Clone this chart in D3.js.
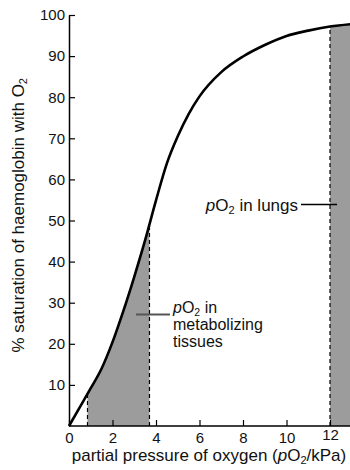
<!DOCTYPE html>
<html>
<head>
<meta charset="utf-8">
<script src="https://cdn.jsdelivr.net/npm/d3@7"></script>
<style>
  body { margin: 0; background: #fff; }
  svg { display: block; font-family: "Liberation Sans", Arial, sans-serif; }
</style>
</head>
<body>
<script>
// oxygen dissociation curve
const pressure = [0, 0.5, 1, 1.5, 2, 2.5, 3, 3.5, 4, 4.5, 5, 5.5, 6, 7, 8, 9, 10, 11, 12, 13];
const saturation = [0, 4.6, 9.2, 14.0, 20.4, 28.0, 36.3, 45.2, 54.9, 63.9, 70.5, 75.9, 80.2, 86.1, 89.9, 92.7, 94.9, 96.2, 97.2, 97.8];
const xTicks = [0, 2, 4, 6, 8, 10, 12];
const yTicks = [10, 20, 30, 40, 50, 60, 70, 80, 90, 100];
const tissueRange = [0.85, 3.7];
const lungRange = [12, 13];

var width = 350, height = 470;
var x0 = 69, x1 = 351.75, yBottom = 426, yTop = 15;

var svg = d3.select("body").append("svg")
  .attr("width", width)
  .attr("height", height);

var x = d3.scaleLinear().domain([0, 13]).range([x0, x1]);
var y = d3.scaleLinear().domain([0, 100]).range([yBottom, yTop]);

var points = pressure.map((p, i) => [p, saturation[i]]);

var line = d3.line()
  .x(d => x(d[0]))
  .y(d => y(d[1]))
  .curve(d3.curveMonotoneX);

var area = d3.area()
  .x(d => x(d[0]))
  .y0(y(0))
  .y1(d => y(d[1]))
  .curve(d3.curveMonotoneX);

// clip rects for the two shaded bands
var defs = svg.append("defs");
[["clipTissue", tissueRange], ["clipLung", lungRange]].forEach(([id, r]) => {
  defs.append("clipPath").attr("id", id)
    .append("rect")
    .attr("x", x(r[0]))
    .attr("y", 0)
    .attr("width", x(r[1]) - x(r[0]))
    .attr("height", yBottom);
});

svg.append("path").datum(points)
  .attr("d", area)
  .attr("fill", "#9c9c9c")
  .attr("clip-path", "url(#clipTissue)");

svg.append("path").datum(points)
  .attr("d", area)
  .attr("fill", "#9c9c9c")
  .attr("clip-path", "url(#clipLung)");

// curve
var curvePath = svg.append("path").datum(points)
  .attr("d", line)
  .attr("fill", "none")
  .attr("stroke", "#000")
  .attr("stroke-width", 2.6);

// find the curve's y at a given pixel x
function curveYAt(px) {
  var node = curvePath.node();
  var lo = 0, hi = node.getTotalLength();
  for (var k = 0; k < 40; k++) {
    var mid = (lo + hi) / 2;
    if (node.getPointAtLength(mid).x < px) lo = mid; else hi = mid;
  }
  return node.getPointAtLength(lo).y;
}

// dashed boundaries
[tissueRange[0], tissueRange[1], lungRange[0]].forEach(v => {
  svg.append("line")
    .attr("x1", x(v)).attr("x2", x(v))
    .attr("y1", yBottom).attr("y2", curveYAt(x(v)) + 1)
    .attr("stroke", "#000")
    .attr("stroke-width", 1.2)
    .attr("stroke-dasharray", "4,3");
});

// axes
var xAxis = svg.append("g")
  .attr("transform", `translate(0,${yBottom})`)
  .call(d3.axisBottom(x).tickValues(xTicks).tickSize(-6).tickSizeOuter(0).tickPadding(6));

var yAxis = svg.append("g")
  .attr("transform", `translate(${x0},0)`)
  .call(d3.axisLeft(y).tickValues(yTicks).tickSize(-6).tickSizeOuter(0).tickPadding(4));

[xAxis, yAxis].forEach(g => {
  g.select(".domain").attr("stroke", "#000").attr("stroke-width", 1.5);
  g.selectAll(".tick line").attr("stroke", "#000").attr("stroke-width", 1.2);
  g.selectAll(".tick text")
    .attr("fill", "#111")
    .style("font-size", "15px")
    .style("font-family", "Liberation Sans, Arial, sans-serif");
});
xAxis.select(".domain").attr("d", `M${x0},0H${width}`);
// the 12 label sits a little higher in the original
xAxis.selectAll(".tick text").filter(d => d === 12).attr("y", 3);

// axis titles
var xTitle = svg.append("text")
  .attr("x", 209).attr("y", 461)
  .attr("text-anchor", "middle")
  .style("font-size", "17px")
  .attr("fill", "#111");
xTitle.append("tspan").text("partial pressure of oxygen (");
xTitle.append("tspan").attr("font-style", "italic").text("p");
xTitle.append("tspan").text("O");
xTitle.append("tspan").attr("dy", 3).style("font-size", "11px").text("2");
xTitle.append("tspan").attr("dy", -3).text("/kPa)");

var yTitle = svg.append("text")
  .attr("transform", "translate(24,78) rotate(-90)")
  .attr("text-anchor", "end")
  .style("font-size", "17px")
  .attr("fill", "#111");
yTitle.append("tspan").text("% saturation of haemoglobin with O");
yTitle.append("tspan").attr("dy", 3).style("font-size", "11px").text("2");

// annotation: lungs
var lungLabel = svg.append("text")
  .attr("x", 298).attr("y", 211)
  .attr("text-anchor", "end")
  .style("font-size", "17px")
  .attr("fill", "#111");
lungLabel.append("tspan").attr("font-style", "italic").text("p");
lungLabel.append("tspan").text("O");
lungLabel.append("tspan").attr("dy", 3).style("font-size", "11px").text("2");
lungLabel.append("tspan").attr("dy", -3).text(" in lungs");

svg.append("line")
  .attr("x1", 301).attr("x2", 337)
  .attr("y1", 204.5).attr("y2", 204.5)
  .attr("stroke", "#000").attr("stroke-width", 1.3);

// annotation: tissues
var tissueLabel = svg.append("text")
  .attr("x", 173).attr("y", 313)
  .style("font-size", "16px")
  .attr("fill", "#111");
tissueLabel.append("tspan").attr("font-style", "italic").text("p");
tissueLabel.append("tspan").text("O");
tissueLabel.append("tspan").attr("dy", 2.5).style("font-size", "10.5px").text("2");
tissueLabel.append("tspan").attr("dy", -2.5).text(" in");
tissueLabel.append("tspan").attr("x", 173).attr("dy", 17).text("metabolizing");
tissueLabel.append("tspan").attr("x", 173).attr("dy", 17).text("tissues");

svg.append("line")
  .attr("x1", 136).attr("x2", 170)
  .attr("y1", 314.5).attr("y2", 314.5)
  .attr("stroke", "#555").attr("stroke-width", 1.8);
</script>
</body>
</html>
